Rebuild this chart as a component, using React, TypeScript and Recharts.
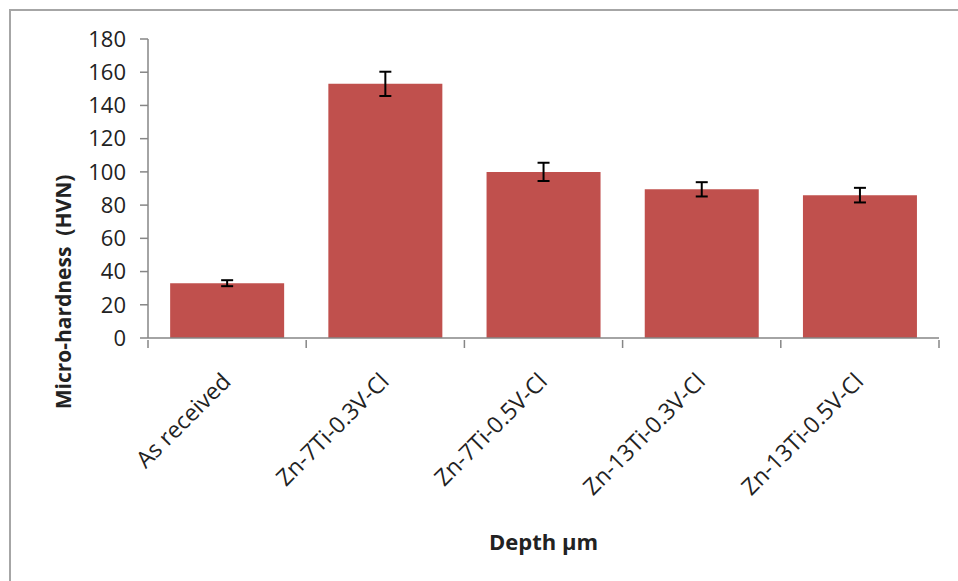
import React from 'react';
import { BarChart, Bar, XAxis, YAxis, ErrorBar } from 'recharts';

const categories = ['As received', 'Zn-7Ti-0.3V-Cl', 'Zn-7Ti-0.5V-Cl', 'Zn-13Ti-0.3V-Cl', 'Zn-13Ti-0.5V-Cl'];
const hardness = [33, 153, 100, 89.5, 86];
const hardnessErr = [1.8, 7.3, 5.5, 4.3, 4.4];
const yTicks = [0, 20, 40, 60, 80, 100, 120, 140, 160, 180];

const data = categories.map((name, i) => ({ name, value: hardness[i], err: hardnessErr[i] }));

const FONT = '"Open Sans", "Liberation Sans", sans-serif';
const W = 958;
const H = 581;
const X_AXIS_H = 200;
const M = { top: 39, right: 19, bottom: 243 - X_AXIS_H, left: 88 };
const Y_AXIS_W = 60;
const BAND = (W - M.left - M.right - Y_AXIS_W) / categories.length;

const CategoryTick = (props: any) => {
  const { x, y, payload, index } = props;
  const left = x - BAND / 2;
  const ax = x + 5;
  const ay = y + 43;
  return (
    <g>
      <line x1={left} y1={y} x2={left} y2={y + 8} stroke="#868686" strokeWidth={1.5} />
      {index === categories.length - 1 && (
        <line x1={x + BAND / 2} y1={y} x2={x + BAND / 2} y2={y + 8} stroke="#868686" strokeWidth={1.5} />
      )}
      <text
        x={ax}
        y={ay}
        transform={`rotate(-45, ${ax}, ${ay})`}
        textAnchor="end"
        fontFamily={FONT}
        fontSize={23}
        fill="#222"
      >
        {payload.value}
      </text>
    </g>
  );
};

export default function App() {
  return (
    <div style={{ position: 'absolute', left: 0, top: 0, width: W, height: H, background: '#fff', overflow: 'hidden' }}>
      <div
        style={{
          position: 'absolute',
          left: 9,
          top: 9,
          width: 980,
          height: 600,
          border: '2px solid #a6a6a6',
        }}
      />
      <div style={{ position: 'absolute', left: 0, top: 0 }}>
        <BarChart width={W} height={H} data={data} margin={M} barCategoryGap="14%">
          <XAxis
            dataKey="name"
            stroke="#868686"
            strokeWidth={1.5}
            tickLine={false}
            interval={0}
            tick={<CategoryTick />}
            tickSize={0}
            height={X_AXIS_H}
            label={{
              value: 'Depth µm',
              position: 'insideBottom',
              offset: -12,
              fontFamily: FONT,
              fontSize: 22,
              fontWeight: 'bold',
              fill: '#222',
            }}
          />
          <YAxis
            width={Y_AXIS_W}
            domain={[0, 180]}
            ticks={yTicks}
            interval={0}
            stroke="#868686"
            strokeWidth={1.5}
            tickSize={8}
            tickMargin={14}
            tick={{ fontFamily: FONT, fontSize: 22, fill: '#222' }}
            label={{
              value: 'Micro-hardness  (HVN)',
              content: () => (
                <text
                  x={63}
                  y={292}
                  transform="rotate(-90, 63, 292)"
                  textAnchor="middle"
                  dominantBaseline="central"
                  fontFamily={FONT}
                  fontSize={21}
                  fontWeight="bold"
                  fill="#222"
                  style={{ whiteSpace: 'pre' }}
                >
                  Micro-hardness  (HVN)
                </text>
              ),
            }}
          />
          <Bar dataKey="value" fill="#C0504D" isAnimationActive={false}>
            <ErrorBar dataKey="err" width={6} stroke="#000" strokeWidth={2} direction="y" />
          </Bar>
        </BarChart>
      </div>
    </div>
  );
}
